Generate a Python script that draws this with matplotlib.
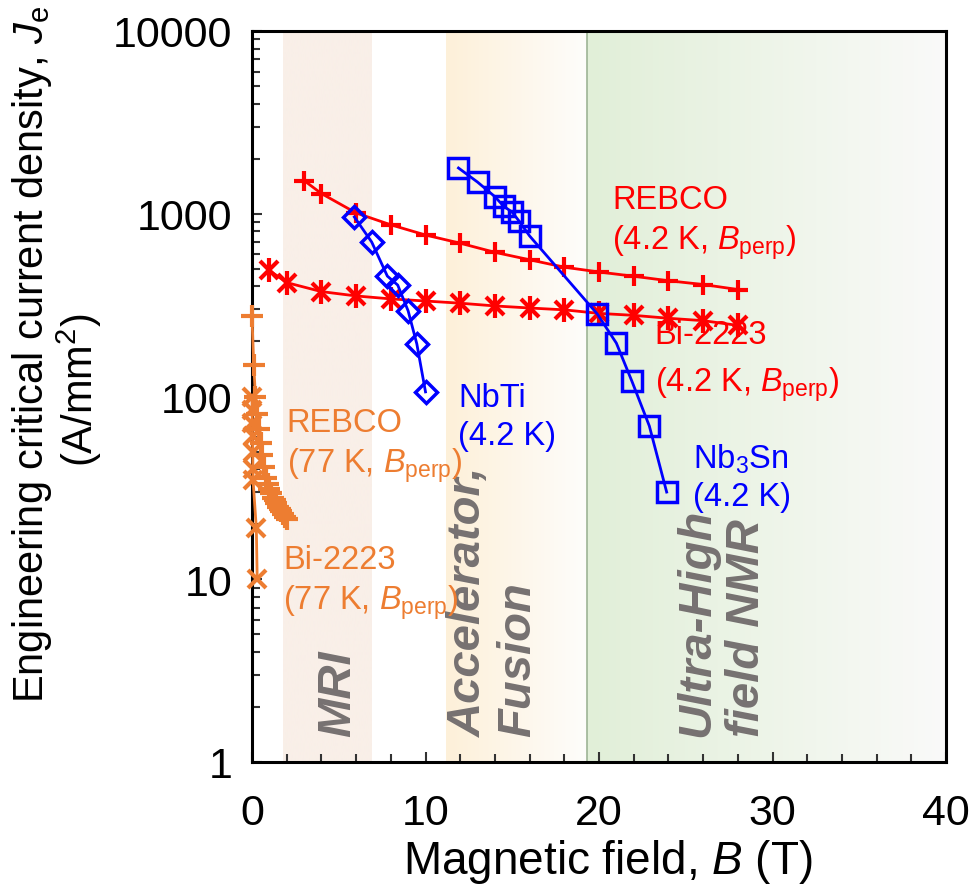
import numpy as np
import matplotlib
matplotlib.use("Agg")
import matplotlib.pyplot as plt
from matplotlib import font_manager
from matplotlib.colors import to_rgb

# ---------------- data ----------------
rebco42_B = [3, 4, 6, 8, 10, 12, 14, 16, 18, 20, 22, 24, 26, 28]
rebco42_J = [1520, 1290, 1010, 870, 765, 690, 615, 560, 510, 480, 455, 430, 410, 385]

bi42_B = [1, 2, 4, 6, 8, 10, 12, 14, 16, 18, 20, 22, 24, 26, 28]
bi42_J = [490, 420, 375, 355, 342, 333, 324, 313, 305, 298, 285, 278, 268, 260, 245]

nbti_B = [5.9, 6.9, 7.8, 8.4, 9.0, 9.5, 10.0]
nbti_J = [960, 700, 456, 407, 294, 194, 106]

nb3sn_B = [11.9, 13.0, 14.0, 14.5, 15.0, 15.4, 16.0, 19.9, 21.0, 21.9, 22.9, 23.9]
nb3sn_J = [1780, 1490, 1240, 1100, 1020, 910, 756, 283, 196, 121, 69, 30]

rebco77_B = [0, 0.1, 0.2, 0.3, 0.4, 0.5, 0.6, 0.7, 0.8, 0.9, 1.0, 1.1, 1.2, 1.3,
             1.4, 1.5, 1.6, 1.7, 1.8, 1.9, 2.0]
rebco77_J = [275, 148, 100, 80, 66, 56, 48, 41, 36, 33, 31, 29.5, 28, 27,
             26, 25, 24.2, 23.5, 22.8, 22, 21.3]

bi77_B = [0.0, 0.01, 0.02, 0.03, 0.04, 0.05, 0.06, 0.25, 0.3]
bi77_J = [100, 84, 72, 61, 50, 40, 35, 19, 10]

xticks = [0, 10, 20, 30, 40]
yticks = [1, 10, 100, 1000, 10000]
ytick_labels = ["1", "10", "100", "1000", "10000"]

# application regions (T)
mri_band = (1.8, 6.9)
acc_band = (11.2, 19.3)
nmr_band = (19.3, 40.0)

# ---------------- style ----------------
names = {f.name for f in font_manager.fontManager.ttflist}
base = "Liberation Sans" if "Liberation Sans" in names else "DejaVu Sans"
narrow = "Liberation Sans Narrow" if "Liberation Sans Narrow" in names else base
plt.rcParams["font.family"] = [base, "DejaVu Sans"]
plt.rcParams["mathtext.fontset"] = "custom"
plt.rcParams["mathtext.rm"] = base
plt.rcParams["mathtext.it"] = base + ":italic"
plt.rcParams["mathtext.bf"] = base + ":bold"

RED = "#FF0000"
BLUE = "#0000FF"
ORANGE = "#ED7D31"
GRAY = "#767171"

W, H = 969, 895
fig = plt.figure(figsize=(W / 100, H / 100), dpi=100)
L, R, B, T = 252 / W, 946 / W, 1 - 763 / H, 1 - 32 / H
pos = [L, B, R - L, T - B]

# background axes for gradient bands
bg = fig.add_axes(pos, zorder=0)
bg.set_xlim(0, 40)
bg.set_ylim(0, 1)
bg.axis("off")


def gradient(ax, x0, x1, c0, c1, y0=0.0, y1=0.997):
    c0 = np.array(to_rgb(c0))
    c1 = np.array(to_rgb(c1))
    t = np.linspace(0, 1, 256)[None, :, None]
    img = c0 + (c1 - c0) * t
    ax.imshow(img, extent=[x0, x1, y0, y1], aspect="auto", interpolation="bilinear",
              zorder=0)


gradient(bg, *mri_band, "#F9EFE8", "#F9EFE8")
gradient(bg, *acc_band, "#FDF0D9", "#FEFDFB")
gradient(bg, *nmr_band, "#E1EFD8", "#FAFAF9")
bg.plot([nmr_band[0], nmr_band[0]], [0, 0.997], color="#9DB495", lw=1.2, zorder=1)
bg.set_xlim(0, 40)
bg.set_ylim(0, 1)

ax = fig.add_axes(pos, zorder=1)
ax.patch.set_alpha(0)
ax.set_yscale("log")
ax.set_xlim(0, 40)
ax.set_ylim(1, 10000)

# region labels
reg_kw = dict(rotation=90, ha="center", va="bottom", color=GRAY, fontsize=34,
              fontweight="bold", fontstyle="italic", multialignment="left",
              linespacing=1.15, zorder=2)
ax.text(4.95, 1.39, "MRI", **reg_kw)
ax.text(13.9, 1.39, "Accelerator,\nFusion", **reg_kw)
ax.text(27.1, 1.39, "Ultra-High\nfield NMR", **reg_kw)

# data series
ax.plot(rebco42_B, rebco42_J, color=RED, lw=2, marker="+", ms=15, mew=3, zorder=5)
ax.plot(bi42_B, bi42_J, color=RED, lw=2, marker="x", ms=13, mew=3, zorder=5)
ax.plot(bi42_B, bi42_J, color=RED, lw=0, marker="|", ms=17, mew=3, zorder=5)
ax.plot(nbti_B, nbti_J, color=BLUE, lw=2, marker="D", ms=11, mfc="none", mew=2.5, zorder=6)
ax.plot(nb3sn_B, nb3sn_J, color=BLUE, lw=2, marker="s", ms=14, mfc="none", mew=2.5, zorder=6)
ax.plot(rebco77_B, rebco77_J, color=ORANGE, lw=2, marker="+", ms=16, mew=3, zorder=5,
        clip_on=False)
ax.plot(bi77_B, bi77_J, color=ORANGE, lw=2, marker="x", ms=13, mew=3, zorder=5,
        clip_on=False)

# data labels
fs = 23.5
bp = r"$\mathit{B}_{\mathrm{perp}}$"
ax.text(20.75, 1455, "REBCO\n(4.2 K, " + bp + ")", color=RED, fontsize=fs,
        ha="left", va="top", linespacing=1.3)
ax.text(23.2, 266, "Bi-2223\n(4.2 K, " + bp + ")", color=RED, fontsize=fs,
        ha="left", va="top", linespacing=1.55)
ax.text(11.9, 120, "NbTi\n(4.2 K)", color=BLUE, fontsize=fs, ha="left", va="top",
        linespacing=1.3)
ax.text(25.4, 56.4, r"Nb$_3$Sn" + "\n(4.2 K)", color=BLUE, fontsize=fs, ha="left",
        va="top", linespacing=1.25)
ax.text(2.0, 87.7, "REBCO\n(77 K, " + bp + ")", color=ORANGE, fontsize=fs,
        ha="left", va="top", linespacing=1.3)
ax.text(1.8, 15.6, "Bi-2223\n(77 K, " + bp + ")", color=ORANGE, fontsize=fs,
        ha="left", va="top", linespacing=1.3)

# axes styling
for s in ax.spines.values():
    s.set_linewidth(2.2)
    s.set_color("black")
ax.set_xticks(xticks)
ax.set_xticks(np.arange(0, 41, 2), minor=True)
ax.set_yticks(yticks)
ax.set_yticklabels(ytick_labels)
ax.tick_params(axis="both", which="both", direction="in", top=False, right=False,
               width=1.5, color="#333333")
ax.tick_params(axis="both", which="major", length=7, labelsize=31)
ax.tick_params(axis="both", which="minor", length=6)
ax.tick_params(axis="x", which="major", pad=22)
ax.tick_params(axis="y", which="major", pad=14)

fig.text(608 / W, 1 - 862 / H, r"Magnetic field, $\mathit{B}$ (T)", ha="center",
         va="center", fontsize=33)

fig.text(32 / W, 1 - 354 / H,
         r"Engineering critical current density, $\mathit{J}_{\mathrm{e}}$",
         rotation=90, ha="center", va="center", fontsize=30, family=[narrow, base])
fig.text(79 / W, 1 - 390 / H, r"(A/mm$^{2}$)", rotation=90, ha="center",
         va="center", fontsize=30, family=[narrow, base])

fig.savefig("out.png", dpi=100)
